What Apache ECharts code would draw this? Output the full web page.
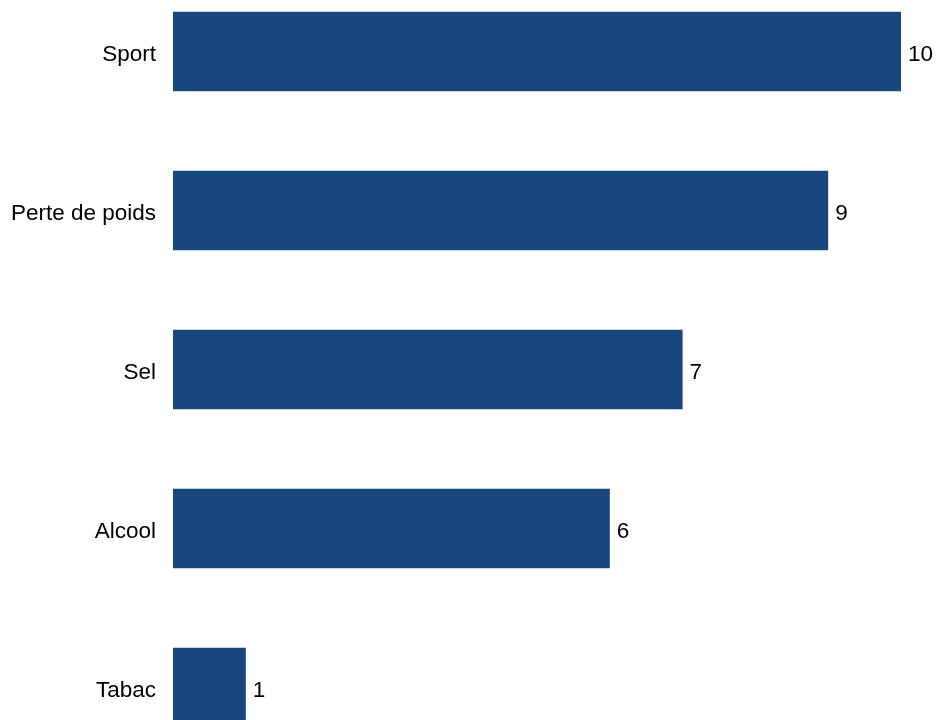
<!DOCTYPE html>
<html>
<head>
<meta charset="utf-8">
<script src="https://cdn.jsdelivr.net/npm/echarts@6/dist/echarts.min.js"></script>
<style>
  html, body { margin: 0; padding: 0; background: #fff; overflow: hidden; width: 936px; height: 720px; }
  /* the plot runs past the window at top and bottom, as in the reference */
  #main { width: 936px; height: 795px; margin-top: -28px; }
</style>
</head>
<body>
<div id="main"></div>
<script>
const categories = ['Sport', 'Perte de poids', 'Sel', 'Alcool', 'Tabac']
const values = [10, 9, 7, 6, 1]

const myChart = echarts.init(document.getElementById('main'))
myChart.setOption({
  animation: false,
  grid: { left: 173, right: 35, top: 0, bottom: 0, containLabel: false },
  xAxis: {
    type: 'value',
    min: 0,
    max: 10,
    show: false
  },
  yAxis: {
    type: 'category',
    data: categories,
    inverse: true,
    axisLine: { show: false },
    axisTick: { show: false },
    axisLabel: {
      margin: 17,
      formatter: '{a|{value}}',
      rich: {
        a: {
          padding: [6, 0, 0, 0],
          fontFamily: 'Liberation Sans',
          fontSize: 22.5,
          color: '#000'
        }
      }
    }
  },
  series: [{
    type: 'bar',
    data: values,
    barWidth: '50%',
    itemStyle: { color: '#17477c' },
    label: {
      show: true,
      position: 'right',
      distance: 7,
      offset: [0, 3],
      fontFamily: 'Liberation Sans',
      fontSize: 22.5,
      color: '#000'
    }
  }]
})
</script>
</body>
</html>
